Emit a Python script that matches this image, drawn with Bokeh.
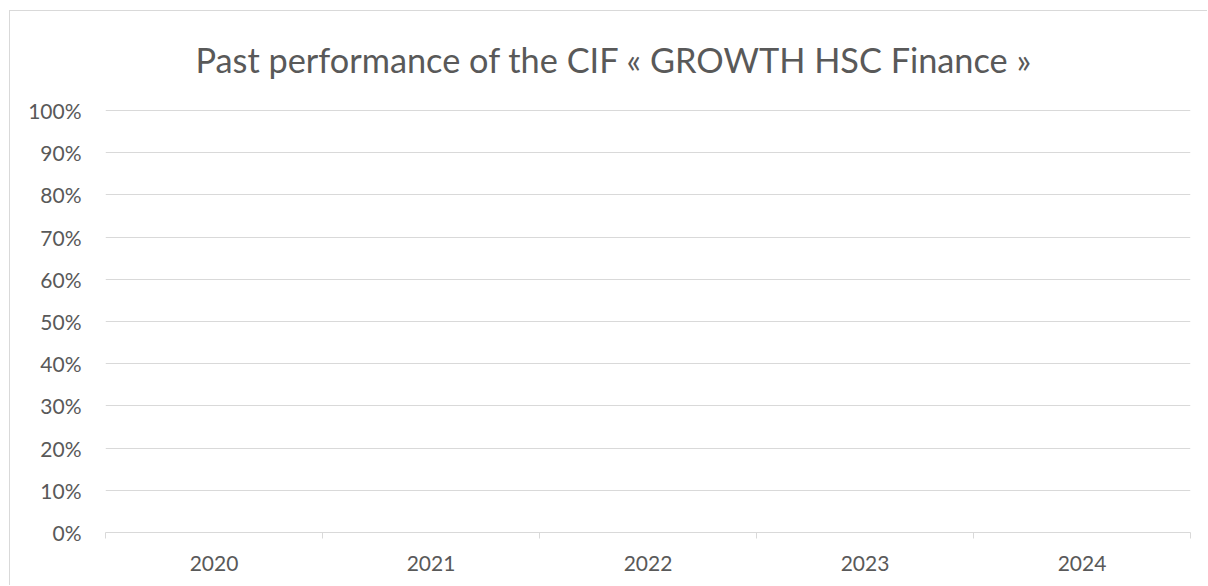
from bokeh.plotting import figure
from bokeh.models import Range1d, FixedTicker, NumeralTickFormatter, Title
from bokeh.embed import file_html
from bokeh.resources import INLINE

# ---- data ----
categories = ["2020", "2021", "2022", "2023", "2024"]
y_ticks = [0.0, 0.1, 0.2, 0.3, 0.4, 0.5, 0.6, 0.7, 0.8, 0.9, 1.0]
title_text = "Past performance of the CIF « GROWTH HSC Finance »"

FONT = "Lato"
TXT = "#595959"
GRID = "#d9d9d9"

n = len(categories)
centers = [i + 0.5 for i in range(n)]
bounds = [float(i) for i in range(n + 1)]

p = figure(width=1198, height=575, output_backend="svg", toolbar_location=None,
           x_range=Range1d(0, n), y_range=Range1d(y_ticks[0], y_ticks[-1] * 423 / 422),
           min_border_left=95, min_border_right=18, min_border_top=98, min_border_bottom=54,
           styles={"border-top": "1px solid #d9d9d9", "border-left": "1px solid #d9d9d9",
                   "margin-left": "9px", "margin-top": "10px"})
p.title = None
p.outline_line_color = None

t = Title(text=title_text, align="left", vertical_align="top", text_font=FONT,
          text_font_size="34.3px", text_color=TXT, text_font_style="normal",
          offset=90, standoff=55)
p.add_layout(t, "above")

# y axis
p.yaxis.ticker = FixedTicker(ticks=y_ticks)
p.yaxis.formatter = NumeralTickFormatter(format="0%")
p.yaxis.axis_line_color = None
p.yaxis.major_tick_line_color = None
p.yaxis.minor_tick_line_color = None
p.yaxis.major_tick_out = 0
p.yaxis.major_label_standoff = 24
p.yaxis.major_label_text_font = FONT
p.yaxis.major_label_text_font_size = "21px"
p.yaxis.major_label_text_color = TXT
p.ygrid.grid_line_color = GRID
p.ygrid.ticker = FixedTicker(ticks=y_ticks)

# x axis
p.xaxis.ticker = FixedTicker(ticks=centers, minor_ticks=bounds)
p.xaxis.major_label_overrides = {c: lab for c, lab in zip(centers, categories)}
p.xaxis.axis_line_color = GRID
p.xaxis.major_tick_line_color = None
p.xaxis.major_tick_out = 0
p.xaxis.minor_tick_line_color = GRID
p.xaxis.minor_tick_out = 6
p.xaxis.minor_tick_in = 0
p.xaxis.major_label_standoff = 17
p.xaxis.major_label_text_font = FONT
p.xaxis.major_label_text_font_size = "21px"
p.xaxis.major_label_text_color = TXT
p.xgrid.grid_line_color = None

open("out.html", "w").write(file_html(p, INLINE))
